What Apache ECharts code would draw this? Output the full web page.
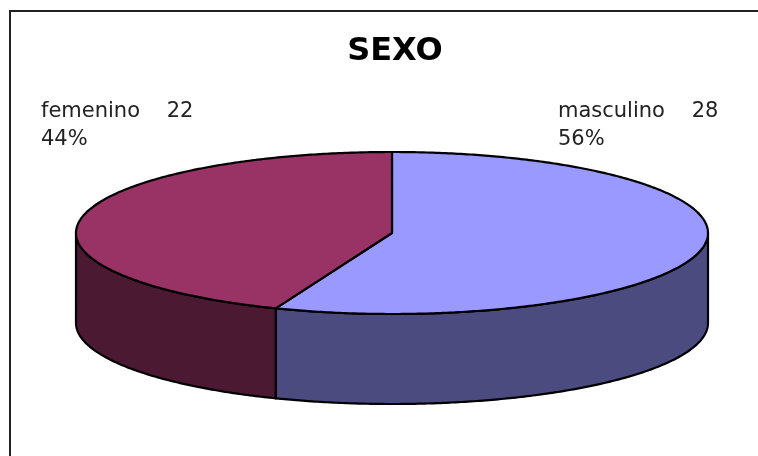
<!DOCTYPE html>
<html>
<head>
<meta charset="utf-8">
<script src="https://cdn.jsdelivr.net/npm/echarts@6/dist/echarts.min.js"></script>
<style>html,body{margin:0;padding:0;background:#fff;}#c{width:758px;height:456px;}</style>
</head>
<body>
<div id="c"></div>
<script>
const titleText = 'SEXO';
const categories = ['masculino', 'femenino'];
const values = [28, 22];
const topColors = ['#9999FF', '#993366'];
const sideColors = ['#4B4B7F', '#4C1933'];

const total = values.reduce((a, b) => a + b, 0);
const L = { cx: 392, cy: 233, rx: 316, ry: 81, depth: 90 };
const FONT = '"DejaVu Sans", Verdana, sans-serif';

function pt(theta, dy) {
  return [L.cx + L.rx * Math.sin(theta), L.cy - L.ry * Math.cos(theta) + (dy || 0)];
}
function arc(a1, a2, dy) {
  const pts = [];
  const n = Math.max(2, Math.ceil(Math.abs(a2 - a1) / 0.01));
  for (let k = 0; k <= n; k++) pts.push(pt(a1 + (a2 - a1) * k / n, dy));
  return pts;
}

function renderItem(params, api) {
  const i = params.dataIndex;
  const v = api.value(0);
  let before = 0;
  for (let k = 0; k < i; k++) before += values[k];
  const start = before / total * Math.PI * 2;
  const end = (before + v) / total * Math.PI * 2;
  const children = [];
  const stroke = { stroke: '#000', lineWidth: 2.2, lineJoin: 'round' };
  // front wall
  const a1 = Math.max(start, Math.PI / 2), a2 = Math.min(end, Math.PI * 1.5);
  if (a1 < a2) {
    const pts = arc(a1, a2, 0).concat(arc(a2, a1, L.depth));
    children.push({ type: 'polygon', shape: { points: pts }, z2: 1,
      style: Object.assign({ fill: sideColors[i] }, stroke) });
  }
  // top face
  const topPts = [[L.cx, L.cy]].concat(arc(start, end, 0));
  children.push({ type: 'polygon', shape: { points: topPts }, z2: 2,
    style: Object.assign({ fill: topColors[i] }, stroke) });
  // label
  const mid = (start + end) / 2;
  const right = Math.sin(mid) > 0;
  const pct = Math.round(v / total * 100);
  children.push({ type: 'text', z2: 3,
    x: right ? L.cx + 166 : L.cx - 351, y: 98,
    style: { text: categories[i] + '    ' + v + '\n' + pct + '%',
      fill: '#222', font: '21px ' + FONT, lineHeight: 28,
      align: 'left', verticalAlign: 'top' } });
  return { type: 'group', children: children };
}

const chart = echarts.init(document.getElementById('c'), null, { renderer: 'canvas' });
chart.setOption({
  backgroundColor: '#fff',
  animation: false,
  title: { text: titleText, left: 390, top: 31, textAlign: 'center',
    textStyle: { fontFamily: FONT, fontWeight: 'bold', fontSize: 32, color: '#000' } },
  graphic: [{ type: 'rect', shape: { x: 10, y: 11, width: 800, height: 500 },
    style: { fill: 'none', stroke: '#222', lineWidth: 2 }, silent: true }],
  series: [{
    type: 'custom',
    coordinateSystem: 'none',
    renderItem: renderItem,
    data: values.map((v, i) => [v, i])
  }]
});
</script>
</body>
</html>
